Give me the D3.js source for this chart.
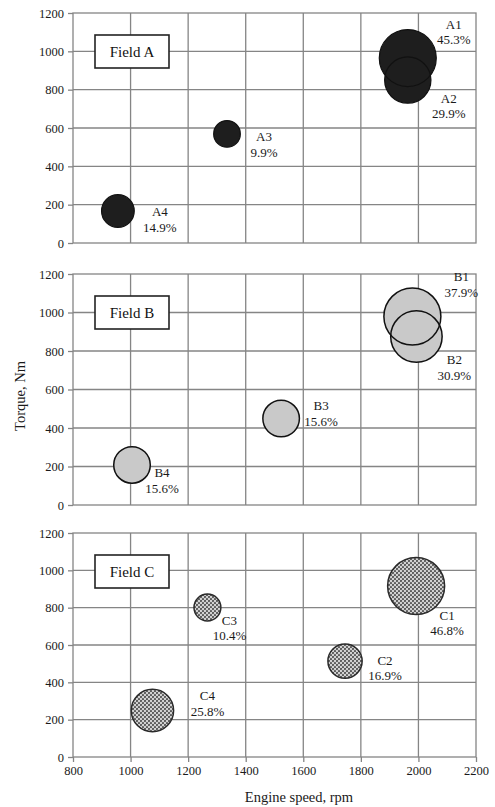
<!DOCTYPE html>
<html>
<head>
<meta charset="utf-8">
<script src="https://cdn.jsdelivr.net/npm/d3@7"></script>
<style>
  body { margin: 0; background: #fff; }
  svg { display: block; font-family: "Liberation Serif", "Times New Roman", serif; }
</style>
</head>
<body>
<div id="chart"></div>
<script>
// data
var fieldNames = ["Field A", "Field B", "Field C"];

var namesA  = ["A1", "A2", "A3", "A4"];
var speedA  = [1963, 1963, 1335, 956];
var torqueA = [965, 850, 569, 167];
var shareA  = [45.3, 29.9, 9.9, 14.9];

var namesB  = ["B1", "B2", "B3", "B4"];
var speedB  = [1979, 1993, 1523, 1005];
var torqueB = [979, 875, 449, 208];
var shareB  = [37.9, 30.9, 15.6, 15.6];

var namesC  = ["C1", "C2", "C3", "C4"];
var speedC  = [1992, 1745, 1267, 1076];
var torqueC = [916, 514, 801, 249];
var shareC  = [46.8, 16.9, 10.4, 25.8];

var speedTicks  = [800, 1000, 1200, 1400, 1600, 1800, 2000, 2200];
var torqueTicks = [0, 200, 400, 600, 800, 1000, 1200];

// label placement (px offset of first line from bubble centre)
var labelOffsets = {
  A1: [46, -34], A2: [41, 18], A3: [37, 3],  A4: [42, 1],
  B1: [49, -40], B2: [38, 23], B3: [40, -13], B4: [30, 8],
  C1: [31, 29],  C2: [40, -1], C3: [22, 13],  C4: [55, -15]
};

var width = 495, height = 807;
var panels = [
  {names: namesA, speed: speedA, torque: torqueA, share: shareA, top: 13,  bottom: 243,
   fill: "#1e1e1e", stroke: "#111", sw: 1.2},
  {names: namesB, speed: speedB, torque: torqueB, share: shareB, top: 274, bottom: 505,
   fill: "#c9c9c9", stroke: "#111", sw: 1.5},
  {names: namesC, speed: speedC, torque: torqueC, share: shareC, top: 533, bottom: 757,
   fill: "url(#dots)", stroke: "#2a2a2a", sw: 1.5}
];

var svg = d3.select("#chart").append("svg")
  .attr("width", width)
  .attr("height", height);

// dotted fill for field C
var pat = svg.append("defs").append("pattern")
  .attr("id", "dots")
  .attr("patternUnits", "userSpaceOnUse")
  .attr("width", 4).attr("height", 4);
pat.append("rect").attr("width", 4).attr("height", 4).attr("fill", "#d2d2d2");
pat.append("circle").attr("cx", 1).attr("cy", 1).attr("r", 1.1).attr("fill", "#555");
pat.append("circle").attr("cx", 3).attr("cy", 3).attr("r", 1.1).attr("fill", "#555");

var x = d3.scaleLinear().domain([800, 2200]).range([73, 476]);
var gridColor = "#858585";
var tickFont = 12.5;

panels.forEach(function (p, i) {
  var y = d3.scaleLinear().domain([0, 1200]).range([p.bottom, p.top]);
  var r = d3.scaleSqrt().domain([0, d3.max(p.share)]).range([0, 28.5]);
  var g = svg.append("g");

  // grid
  g.selectAll(".vgrid").data(speedTicks.slice(1, -1)).enter().append("line")
    .attr("x1", function (d) { return x(d); }).attr("x2", function (d) { return x(d); })
    .attr("y1", p.top).attr("y2", p.bottom)
    .attr("stroke", gridColor).attr("stroke-width", 1.3);
  g.selectAll(".hgrid").data(torqueTicks.slice(1, -1)).enter().append("line")
    .attr("x1", x.range()[0]).attr("x2", x.range()[1])
    .attr("y1", function (d) { return y(d); }).attr("y2", function (d) { return y(d); })
    .attr("stroke", gridColor).attr("stroke-width", 1.3);
  g.append("rect")
    .attr("x", x.range()[0]).attr("y", p.top)
    .attr("width", x.range()[1] - x.range()[0]).attr("height", p.bottom - p.top)
    .attr("fill", "none").attr("stroke", gridColor).attr("stroke-width", 1.3);

  // y axis
  var ya = g.append("g")
    .attr("transform", "translate(" + x.range()[0] + ",0)")
    .call(d3.axisLeft(y).tickValues(torqueTicks).tickSize(5).tickPadding(4).tickFormat(d3.format("d")));
  ya.select(".domain").remove();
  ya.selectAll("line").attr("stroke", gridColor).attr("stroke-width", 1.3);
  ya.selectAll("text").attr("font-family", "Liberation Serif, serif").attr("font-size", tickFont).attr("fill", "#1a1a1a");

  // x axis only on the last panel
  if (i === panels.length - 1) {
    var xa = g.append("g")
      .attr("transform", "translate(0," + p.bottom + ")")
      .call(d3.axisBottom(x).tickValues(speedTicks).tickSize(5).tickPadding(4).tickFormat(d3.format("d")));
    xa.select(".domain").remove();
    xa.selectAll("line").attr("stroke", gridColor).attr("stroke-width", 1.3);
    xa.selectAll("text").attr("font-family", "Liberation Serif, serif").attr("font-size", tickFont).attr("fill", "#1a1a1a");
  }

  // field label box
  var bx = x.range()[0] + 22, by = p.top + 22;
  g.append("rect")
    .attr("x", bx).attr("y", by).attr("width", 74).attr("height", 33)
    .attr("fill", "#fff").attr("stroke", "#222").attr("stroke-width", 1.6);
  g.append("text")
    .attr("x", bx + 37).attr("y", by + 16.5)
    .attr("text-anchor", "middle").attr("dominant-baseline", "central")
    .attr("font-size", 15).attr("fill", "#111")
    .text(fieldNames[i]);

  var pts = p.names.map(function (n, k) {
    return {name: n, speed: p.speed[k], torque: p.torque[k], share: p.share[k]};
  });

  // fills first, then outlines so overlapping rims stay visible
  g.selectAll(".bfill").data(pts).enter().append("circle")
    .attr("cx", function (d) { return x(d.speed); })
    .attr("cy", function (d) { return y(d.torque); })
    .attr("r", function (d) { return r(d.share); })
    .attr("fill", p.fill);
  g.selectAll(".bline").data(pts).enter().append("circle")
    .attr("cx", function (d) { return x(d.speed); })
    .attr("cy", function (d) { return y(d.torque); })
    .attr("r", function (d) { return r(d.share); })
    .attr("fill", "none").attr("stroke", p.stroke).attr("stroke-width", p.sw);

  // labels
  var lab = g.selectAll(".blab").data(pts).enter().append("text")
    .attr("text-anchor", "middle")
    .attr("font-size", 13).attr("fill", "#1a1a1a");
  lab.append("tspan")
    .attr("x", function (d) { return x(d.speed) + labelOffsets[d.name][0]; })
    .attr("y", function (d) { return y(d.torque) + labelOffsets[d.name][1] + 4.5; })
    .text(function (d) { return d.name; });
  lab.append("tspan")
    .attr("x", function (d) { return x(d.speed) + labelOffsets[d.name][0]; })
    .attr("y", function (d) { return y(d.torque) + labelOffsets[d.name][1] + 20; })
    .text(function (d) { return d.share.toFixed(1) + "%"; });
});

// axis titles
svg.append("text")
  .attr("x", 299).attr("y", 802)
  .attr("text-anchor", "middle").attr("font-size", 14.5).attr("fill", "#1a1a1a")
  .text("Engine speed, rpm");
svg.append("text")
  .attr("transform", "translate(25,396) rotate(-90)")
  .attr("text-anchor", "middle").attr("font-size", 14.5).attr("fill", "#1a1a1a")
  .text("Torque, Nm");
</script>
</body>
</html>
